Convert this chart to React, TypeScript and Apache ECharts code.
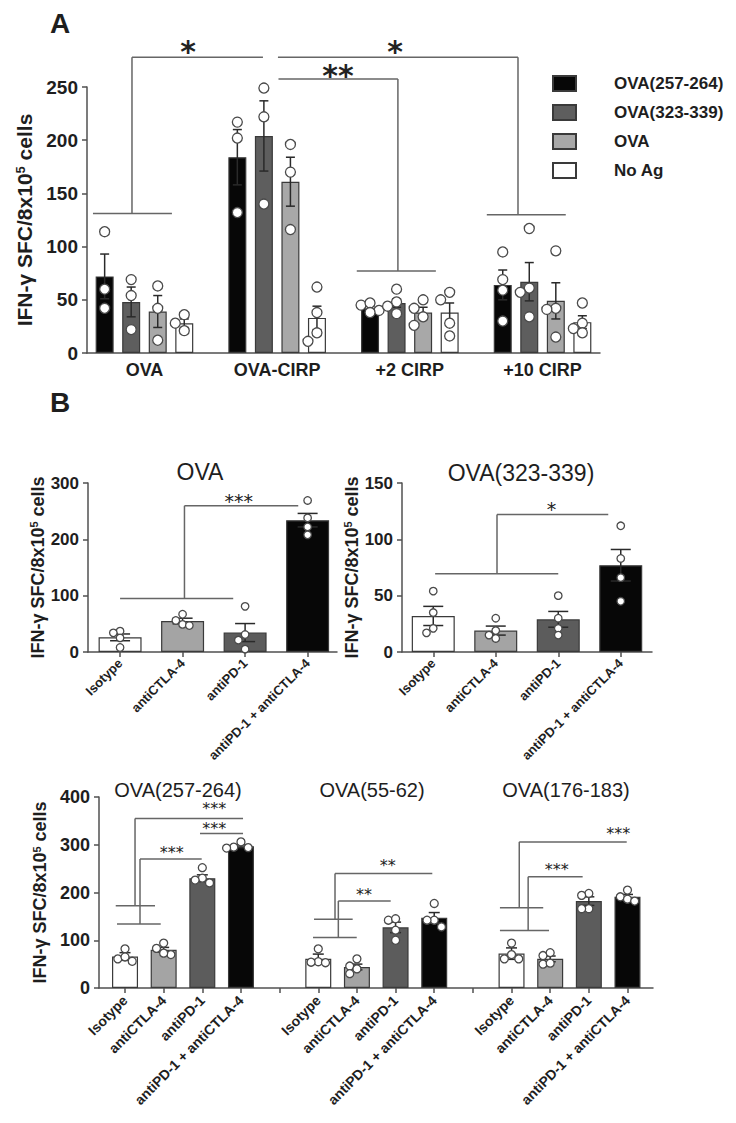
import React, { useEffect, useRef } from "react";
import * as echarts from "echarts";

const FONT = "'Liberation Sans', Arial, Helvetica, sans-serif";
const STAR_FONT = "'DejaVu Sans', sans-serif";
const INK = "#1e1e1e";
const AXIS = "#505050";
const EDGE = "#3a3a3a";
const BRACKET = "#666666";

// ---------------- Panel A data ----------------
const A_GROUPS = ["OVA", "OVA-CIRP", "+2 CIRP", "+10 CIRP"];
const A_ANTIGENS = ["OVA(257-264)", "OVA(323-339)", "OVA", "No Ag"];
const A_Y_MAX = 250;
const A_Y_STEP = 50;
const A_MEAN_257 = [72, 184, 42, 64];
const A_MEAN_323 = [48, 204, 47, 67];
const A_MEAN_OVA = [39, 161, 38, 49];
const A_MEAN_NOAG = [28, 33, 38, 29];
const A_SEM_257 = [21, 26, 2, 14];
const A_SEM_323 = [14, 33, 4, 18];
const A_SEM_OVA = [15, 23, 5, 17];
const A_SEM_NOAG = [4, 11, 9, 6];
const A_PTS_257 = [[114, 60, 42], [217, 202, 132], [45, 40, 47, 38], [95, 69, 59, 30]];
const A_PTS_323 = [[69, 54, 22], [249, 222, 140], [60, 48, 44, 37], [117, 61, 57, 34]];
const A_PTS_OVA = [[63, 42, 12], [196, 170, 116], [50, 42, 34, 26], [96, 42, 41, 15]];
const A_PTS_NOAG = [[36, 28, 21], [62, 38, 19, 11], [57, 50, 28, 16], [47, 28, 23, 19]];
// brackets in data space: [lowX1, lowX2, lowY, stemX, topY, topX2, labelX, labelY]
const A_BRACKETS = [
  [-0.388, 0.207, 131, -0.094, 278, 0.893, 0.328, 289],
  [2.58, 3.175, 130, 2.815, 278, 1.006, 1.888, 289],
  [1.6, 2.196, 77, 1.91, 257.5, 1.01, 1.458, 266],
];
const A_BRACKET_LABELS = ["*", "*", "**"];

// ---------------- Panel B data ----------------
const B_TREATMENTS = ["Isotype", "antiCTLA-4", "antiPD-1", "antiPD-1 + antiCTLA-4"];

const B_OVA_Y_MAX = 300;
const B_OVA_MEAN = [26, 55, 34.5, 234];
const B_OVA_SEM = [6, 5, 16, 12];
const B_OVA_PTS = [[37, 34, 25, 8], [67, 56, 49, 47], [81, 31, 21, 5], [269, 238, 222, 208]];
const B_OVA_BRACKETS = [[0, 1.81, 95, 1.03, 259.6, 2.85, 1.9, 274.5]];
const B_OVA_LABELS = ["***"];

const B_323_Y_MAX = 150;
const B_323_MEAN = [32, 19, 29, 77];
const B_323_SEM = [8.5, 4, 7, 14];
const B_323_PTS = [[54, 35, 17, 21], [30, 19, 15, 12], [50, 30, 21, 15], [112, 83, 66, 45]];
const B_323_BRACKETS = [[0.03, 2.0, 69.5, 1.02, 122, 2.8, 1.89, 130]];
const B_323_LABELS = ["*"];

const C_TITLES = ["OVA(257-264)", "OVA(55-62)", "OVA(176-183)"];
const C_Y_MAX = 400;
const C_MEAN_257 = [66, 80, 230, 297];
const C_SEM_257 = [8, 5, 7, 3];
const C_PTS_257 = [[82, 56, 61, 65], [94, 83, 70, 73], [252, 230, 226, 220], [306, 294, 295, 293]];
const C_MEAN_55 = [61, 44, 127, 147];
const C_SEM_55 = [10, 6, 11, 11];
const C_PTS_55 = [[82, 55, 53, 54], [61, 46, 40, 30], [142, 145, 121, 100], [177, 142, 142, 128]];
const C_MEAN_176 = [72, 61, 182, 191];
const C_SEM_176 = [12, 6, 9, 5];
const C_PTS_176 = [[94, 61, 61, 70], [68, 74, 50, 52], [198, 194, 166, 166], [205, 191, 186, 182]];
const C_BRACKETS = [
  [-0.24, 0.776, 172, 0.259, 355, 3.053, 2.31, 382],
  [1.94, 3.053, 323.5, 1.94, 323.5, 1.94, 2.31, 341],
  [-0.207, 0.924, 134, 0.388, 270, 1.984, 1.21, 290],
  [4.864, 5.995, 105.7, 5.519, 182.3, 6.874, 6.18, 201.7],
  [4.89, 5.89, 144, 5.433, 240, 7.95, 6.8, 263.7],
  [9.7, 10.97, 120.3, 10.43, 233, 11.84, 11.17, 254],
  [9.7, 10.82, 168.3, 10.2, 306, 12.98, 12.76, 330.5],
];
const C_LABELS = ["***", "***", "***", "**", "**", "***", "***"];

const Y_NAME = "IFN-γ SFC/8x10{sup|5} cells";

// ---------------- layout / style ----------------
const GRID_A = { left: 87, top: 87, width: 513, height: 266 };
const GRID_B1 = { left: 88, top: 483, width: 249, height: 169 };
const GRID_B2 = { left: 402, top: 483, width: 250, height: 169 };
const GRID_C = { left: 99, top: 797, width: 554, height: 191 };
const XR_A = [-0.433, 3.433];
const XR_B1 = [-0.513, 3.47];
const XR_B2 = [-0.5, 3.5];
const XR_C = [-0.673, 13.66];
const A_OFFSETS = [-0.3, -0.1, 0.1, 0.3];
const A_COLORS = ["#070707", "#5e5e5e", "#a8a8a8", "#ffffff"];
const B_COLORS = ["#ffffff", "#a4a4a4", "#5c5c5c", "#070707"];

function swarmOffsets(values: number[], pxPerY: number, diam: number): number[] {
  const order = values.map((_, i) => i).sort((a, b) => values[b] - values[a]);
  const res = new Array(values.length).fill(0);
  const placed: { x: number; y: number }[] = [];
  const d = diam * 0.9;
  for (const i of order) {
    const y = values[i] * pxPerY;
    let chosen = 0;
    for (const c of [0, -1, 1, -2, 2]) {
      const x = c * d;
      if (placed.every((p) => (p.x - x) ** 2 + (p.y - y) ** 2 >= d * d)) {
        chosen = x;
        break;
      }
    }
    placed.push({ x: chosen, y });
    res[i] = chosen;
  }
  return res;
}

function geo(grid: any, xr: number[], ymax: number) {
  return { pxPerX: grid.width / (xr[1] - xr[0]), pxPerY: grid.height / ymax };
}

function barSeries(gi: number, name: string, data: any[], width: number) {
  return {
    type: "bar",
    name,
    xAxisIndex: gi,
    yAxisIndex: gi,
    barWidth: width,
    barGap: "-100%",
    data,
    itemStyle: { borderColor: EDGE, borderWidth: 1.2 },
    z: 2,
    silent: true,
  };
}

function errorSeries(gi: number, items: number[][], cap: number) {
  return {
    type: "custom",
    xAxisIndex: gi,
    yAxisIndex: gi,
    clip: false,
    silent: true,
    z: 3,
    data: items,
    renderItem: (params: any, api: any) => {
      const x = api.value(0);
      const m = api.value(1);
      const s = api.value(2);
      const t = api.coord([x, m + s]);
      const b = api.coord([x, m - s]);
      const h = cap / 2;
      const st = () => ({ stroke: "#2a2a2a", lineWidth: 1.5 });
      return {
        type: "group",
        children: [
          { type: "line", shape: { x1: t[0], y1: t[1], x2: b[0], y2: b[1] }, style: st() },
          { type: "line", shape: { x1: t[0] - h, y1: t[1], x2: t[0] + h, y2: t[1] }, style: st() },
          { type: "line", shape: { x1: b[0] - h, y1: b[1], x2: b[0] + h, y2: b[1] }, style: st() },
        ],
      };
    },
  };
}

function pointSeries(gi: number, xs: number[], pts: number[][], g: any, diam: number) {
  const data: number[][] = [];
  pts.forEach((vals, k) => {
    const offs = swarmOffsets(vals, g.pxPerY, diam);
    vals.forEach((v, n) => data.push([xs[k] + offs[n] / g.pxPerX, v]));
  });
  return {
    type: "scatter",
    xAxisIndex: gi,
    yAxisIndex: gi,
    symbol: "circle",
    symbolSize: diam,
    data,
    itemStyle: { color: "#ffffff", borderColor: "#4a4a4a", borderWidth: 1.3, opacity: 1 },
    z: 4,
    silent: true,
  };
}

function bracketSeries(gi: number, items: number[][], labels: string[], starSize: number, starWeight: string) {
  return {
    type: "custom",
    xAxisIndex: gi,
    yAxisIndex: gi,
    clip: false,
    silent: true,
    z: 5,
    data: items,
    renderItem: (params: any, api: any) => {
      const v = (i: number) => api.value(i);
      const a = api.coord([v(0), v(2)]);
      const b = api.coord([v(1), v(2)]);
      const c = api.coord([v(3), v(2)]);
      const d = api.coord([v(3), v(4)]);
      const e = api.coord([v(5), v(4)]);
      const l = api.coord([v(6), v(7)]);
      const st = () => ({ stroke: BRACKET, lineWidth: 1.5 });
      return {
        type: "group",
        children: [
          { type: "line", shape: { x1: a[0], y1: a[1], x2: b[0], y2: b[1] }, style: st() },
          { type: "line", shape: { x1: c[0], y1: c[1], x2: d[0], y2: d[1] }, style: st() },
          { type: "line", shape: { x1: d[0], y1: d[1], x2: e[0], y2: e[1] }, style: st() },
          {
            type: "text",
            x: l[0],
            y: l[1] + starSize * 0.2,
            style: {
              text: labels[params.dataIndex],
              fill: "#222222",
              fontSize: starSize,
              fontFamily: STAR_FONT,
              fontWeight: starWeight,
              align: "center",
              verticalAlign: "middle",
              textAlign: "center",
              textVerticalAlign: "middle",
            },
          },
        ],
      };
    },
  };
}

function yAxisCfg(gi: number, max: number, interval: number, labelSize: number, nameSize: number, nameGap: number) {
  return {
    type: "value",
    gridIndex: gi,
    min: 0,
    max,
    interval,
    axisLine: { show: true, onZero: false, lineStyle: { color: AXIS, width: 1.5 } },
    axisTick: { show: true, length: 5, lineStyle: { color: AXIS, width: 1.5 } },
    axisLabel: { fontSize: labelSize, fontWeight: "bold", color: INK, fontFamily: FONT, margin: 9 },
    splitLine: { show: false },
    name: Y_NAME,
    nameLocation: "middle",
    nameRotate: 90,
    nameGap,
    nameTextStyle: {
      fontSize: nameSize,
      fontWeight: "bold",
      color: INK,
      fontFamily: FONT,
      rich: {
        sup: {
          fontSize: Math.round(nameSize * 0.62),
          fontWeight: "bold",
          color: INK,
          fontFamily: FONT,
          verticalAlign: "top",
          lineHeight: Math.round(nameSize * 0.62),
        },
      },
    },
  };
}

function xAxisCfg(gi: number, range: number[], ticks: number[] | null, labelVals: number[], fmt: (v: number) => string, label: any) {
  return {
    type: "value",
    gridIndex: gi,
    min: range[0],
    max: range[1],
    axisLine: { show: true, onZero: false, lineStyle: { color: AXIS, width: 1.5 } },
    axisTick: ticks
      ? { show: true, customValues: ticks, length: 5, lineStyle: { color: AXIS, width: 1.5 } }
      : { show: false },
    axisLabel: { show: true, customValues: labelVals, formatter: fmt, color: INK, fontFamily: FONT, ...label },
    splitLine: { show: false },
  };
}

function buildOption() {
  const gA = geo(GRID_A, XR_A, A_Y_MAX);
  const gB1 = geo(GRID_B1, XR_B1, B_OVA_Y_MAX);
  const gB2 = geo(GRID_B2, XR_B2, B_323_Y_MAX);
  const gC = geo(GRID_C, XR_C, C_Y_MAX);

  const aMeans = [A_MEAN_257, A_MEAN_323, A_MEAN_OVA, A_MEAN_NOAG];
  const aSems = [A_SEM_257, A_SEM_323, A_SEM_OVA, A_SEM_NOAG];
  const aPts = [A_PTS_257, A_PTS_323, A_PTS_OVA, A_PTS_NOAG];

  const series: any[] = [];

  // Panel A
  aMeans.forEach((means, j) => {
    series.push({
      ...barSeries(
        0,
        A_ANTIGENS[j],
        A_GROUPS.map((_, i) => [i + A_OFFSETS[j], means[i]]),
        18
      ),
      itemStyle: { color: A_COLORS[j], borderColor: EDGE, borderWidth: 1.2 },
    });
  });
  const aErr: number[][] = [];
  aMeans.forEach((means, j) => A_GROUPS.forEach((_, i) => aErr.push([i + A_OFFSETS[j], means[i], aSems[j][i]])));
  series.push(errorSeries(0, aErr, 9));
  aPts.forEach((pts, j) => {
    series.push(pointSeries(0, A_GROUPS.map((_, i) => i + A_OFFSETS[j]), pts, gA, 10));
  });
  series.push(bracketSeries(0, A_BRACKETS, A_BRACKET_LABELS, 30, "bold"));

  // Panel B panels
  const bXs = B_TREATMENTS.map((_, i) => i);
  const bBars = (means: number[], xs: number[]) =>
    means.map((m, i) => ({ value: [xs[i], m], itemStyle: { color: B_COLORS[i % 4] } }));

  // B1 OVA
  series.push(barSeries(1, "B OVA bars", bBars(B_OVA_MEAN, bXs), 43));
  series.push(errorSeries(1, B_OVA_MEAN.map((m, i) => [bXs[i], m, B_OVA_SEM[i]]), 20));
  series.push(pointSeries(1, bXs, B_OVA_PTS, gB1, 7.5));
  series.push(bracketSeries(1, B_OVA_BRACKETS, B_OVA_LABELS, 19, "normal"));

  // B2 OVA(323-339)
  series.push(barSeries(2, "B 323 bars", bBars(B_323_MEAN, bXs), 43));
  series.push(errorSeries(2, B_323_MEAN.map((m, i) => [bXs[i], m, B_323_SEM[i]]), 20));
  series.push(pointSeries(2, bXs, B_323_PTS, gB2, 7.5));
  series.push(bracketSeries(2, B_323_BRACKETS, B_323_LABELS, 19, "normal"));

  // Bottom row (three antigens on one axis)
  const cMeans = [C_MEAN_257, C_MEAN_55, C_MEAN_176];
  const cSems = [C_SEM_257, C_SEM_55, C_SEM_176];
  const cPts = [C_PTS_257, C_PTS_55, C_PTS_176];
  const cXs: number[] = [];
  const cBarData: any[] = [];
  const cErr: number[][] = [];
  const cAllPts: number[][] = [];
  cMeans.forEach((means, g) => {
    means.forEach((m, i) => {
      const x = g * 5 + i;
      cXs.push(x);
      cBarData.push({ value: [x, m], itemStyle: { color: B_COLORS[i] } });
      cErr.push([x, m, cSems[g][i]]);
      cAllPts.push(cPts[g][i]);
    });
  });
  series.push(barSeries(3, "C bars", cBarData, 26));
  series.push(errorSeries(3, cErr, 11));
  series.push(pointSeries(3, cXs, cAllPts, gC, 8));
  series.push(bracketSeries(3, C_BRACKETS, C_LABELS, 16, "normal"));

  const cTicks = Array.from({ length: 14 }, (_, k) => k);
  const cLabelVals = cXs;

  const titleStyle = (size: number, weight = "normal") => ({
    fill: INK,
    fontSize: size,
    fontWeight: weight,
    fontFamily: FONT,
    align: "center",
    verticalAlign: "middle",
    textAlign: "center",
    textVerticalAlign: "middle",
  });

  return {
    animation: false,
    backgroundColor: "#ffffff",
    textStyle: { fontFamily: FONT },
    grid: [GRID_A, GRID_B1, GRID_B2, GRID_C].map((g) => ({ ...g, containLabel: false })),
    xAxis: [
      xAxisCfg(0, XR_A, null, [0, 1, 2, 3], (v) => A_GROUPS[Math.round(v)] ?? "", {
        fontSize: 18,
        fontWeight: "bold",
        margin: 8,
      }),
      xAxisCfg(1, XR_B1, bXs, bXs, (v) => B_TREATMENTS[Math.round(v)] ?? "", {
        fontSize: 13,
        fontWeight: "bold",
        rotate: 45,
        margin: 9,
      }),
      xAxisCfg(2, XR_B2, bXs, bXs, (v) => B_TREATMENTS[Math.round(v)] ?? "", {
        fontSize: 13,
        fontWeight: "bold",
        rotate: 45,
        margin: 9,
      }),
      xAxisCfg(3, XR_C, cTicks, cLabelVals, (v) => B_TREATMENTS[Math.round(v) % 5] ?? "", {
        fontSize: 14,
        fontWeight: "bold",
        rotate: 45,
        margin: 10,
      }),
    ],
    yAxis: [
      yAxisCfg(0, A_Y_MAX, A_Y_STEP, 19, 21, 39),
      yAxisCfg(1, B_OVA_Y_MAX, 100, 17, 18, 39),
      yAxisCfg(2, B_323_Y_MAX, 50, 17, 18, 40),
      yAxisCfg(3, C_Y_MAX, 100, 18, 18, 44),
    ],
    legend: {
      data: A_ANTIGENS,
      orient: "vertical",
      left: 547,
      top: 70,
      itemWidth: 23,
      itemHeight: 15,
      itemGap: 12,
      icon: "rect",
      selectedMode: false,
      textStyle: { fontSize: 17, fontWeight: "bold", color: INK, fontFamily: FONT, padding: [0, 0, 0, 33] },
    },
    graphic: {
      elements: [
        { type: "text", x: 50, y: 23, style: { ...titleStyle(28, "bold"), align: "left", textAlign: "left", text: "A" } },
        { type: "text", x: 50, y: 402, style: { ...titleStyle(28, "bold"), align: "left", textAlign: "left", text: "B" } },
        { type: "text", x: 200, y: 472, style: { ...titleStyle(23), text: "OVA" } },
        { type: "text", x: 521, y: 473, style: { ...titleStyle(23), text: "OVA(323-339)" } },
        { type: "text", x: 178, y: 790, style: { ...titleStyle(20), text: C_TITLES[0] } },
        { type: "text", x: 372, y: 790, style: { ...titleStyle(20), text: C_TITLES[1] } },
        { type: "text", x: 566, y: 790, style: { ...titleStyle(20), text: C_TITLES[2] } },
      ],
    },
    series,
  };
}

export default function App() {
  const ref = useRef<HTMLDivElement>(null);
  useEffect(() => {
    if (!ref.current) return;
    const chart = echarts.init(ref.current, null, { renderer: "svg" });
    chart.setOption(buildOption() as any);
    return () => chart.dispose();
  }, []);
  return (
    <div
      ref={ref}
      style={{ position: "fixed", left: 0, top: 0, width: 736, height: 1123, background: "#fff" }}
    />
  );
}
